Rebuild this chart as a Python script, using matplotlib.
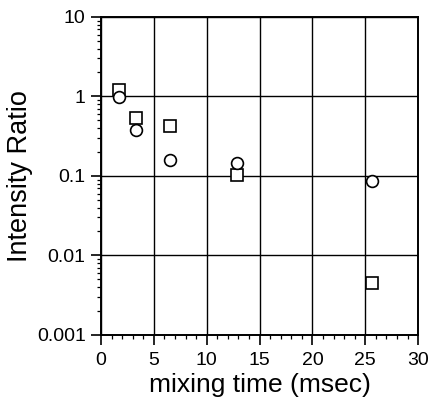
import matplotlib
matplotlib.use("Agg")
import matplotlib.pyplot as plt
from matplotlib.ticker import FixedLocator, LogLocator, NullFormatter, MultipleLocator

# data
time_sq = [1.7, 3.3, 6.5, 12.9, 25.6]
ratio_sq = [1.19, 0.54, 0.42, 0.102, 0.0045]
time_ci = [1.7, 3.3, 6.5, 12.9, 25.6]
ratio_ci = [0.97, 0.38, 0.157, 0.144, 0.086]

x_ticks = [0, 5, 10, 15, 20, 25, 30]
y_ticks = [0.001, 0.01, 0.1, 1, 10]
y_labels = ["0.001", "0.01", "0.1", "1", "10"]

plt.rcParams["font.family"] = ["Liberation Sans", "DejaVu Sans"]

fig = plt.figure(figsize=(4.28, 4.03), dpi=100)
ax = fig.add_axes([0.236, 0.169, 0.741, 0.789])

ax.set_yscale("log")
ax.set_xlim(0, 30)
ax.set_ylim(0.001, 10)

ax.plot(time_sq, ratio_sq, ls="none", marker="s", ms=8, mfc="white",
        mec="black", mew=1.2, zorder=3)
ax.plot(time_ci, ratio_ci, ls="none", marker="o", ms=8.5, mfc="white",
        mec="black", mew=1.2, zorder=3)

ax.xaxis.set_major_locator(FixedLocator(x_ticks))
ax.xaxis.set_minor_locator(MultipleLocator(1))
ax.yaxis.set_major_locator(FixedLocator(y_ticks))
ax.yaxis.set_minor_locator(LogLocator(base=10, subs=range(2, 10)))
ax.yaxis.set_minor_formatter(NullFormatter())
ax.set_xticklabels([str(t) for t in x_ticks])
ax.set_yticklabels(y_labels)

ax.grid(True, which="major", color="black", lw=1.0)
ax.set_axisbelow(True)
for s in ax.spines.values():
    s.set_linewidth(1.4)

ax.tick_params(which="major", direction="out", length=7, width=1.2,
               labelsize=14, pad=4)
ax.tick_params(which="minor", direction="out", length=3, width=0.9)
ax.tick_params(axis="x", which="major", pad=5)

ax.set_xlabel("mixing time (msec)", fontsize=19, labelpad=3)
ax.set_ylabel("Intensity Ratio", fontsize=19.5, labelpad=3)

fig.savefig("out.png", dpi=100)
